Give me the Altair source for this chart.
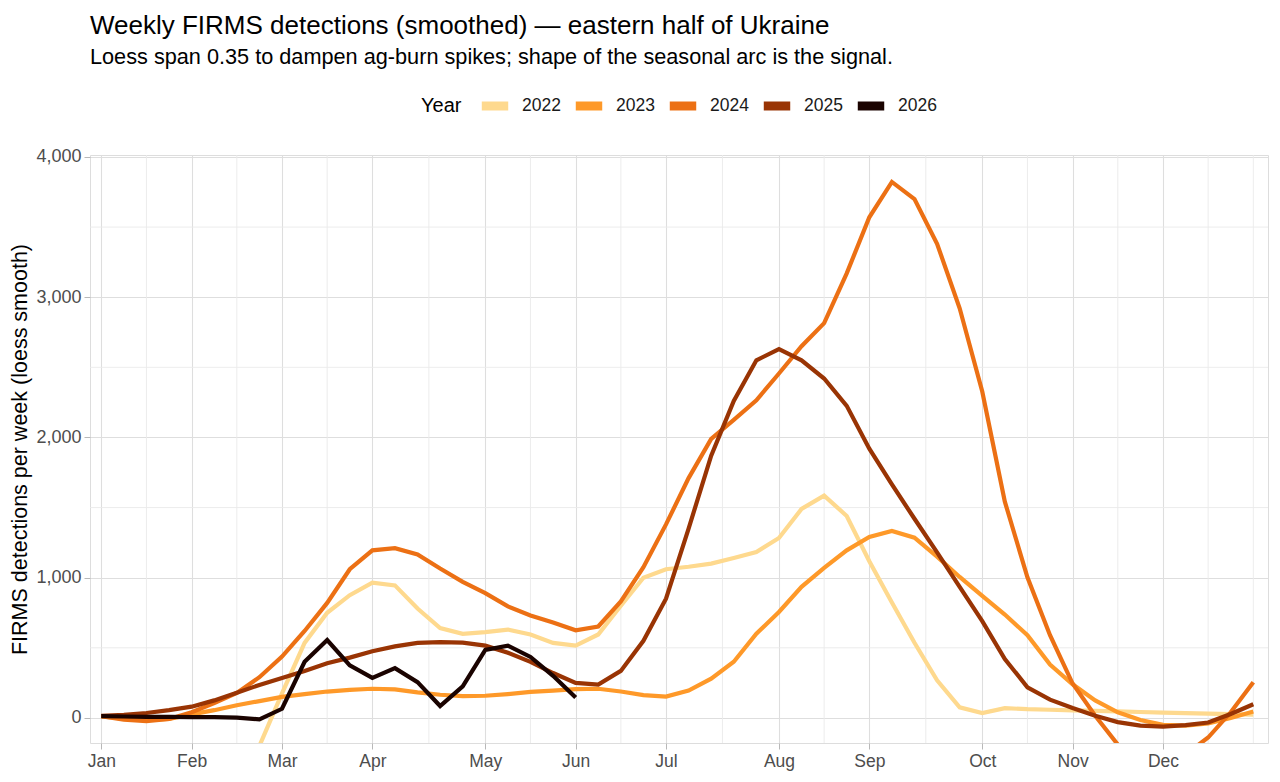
import altair as alt
import pandas as pd

# ---- data ----
years = ["2022", "2023", "2024", "2025", "2026"]
colors = ["#FED98E", "#FE9929", "#EC7014", "#993404", "#1A0300"]

weeks_2022 = list(range(8, 53))
det_2022 = [-200, 175, 535, 750, 875, 965, 945, 780, 640, 600, 612, 630, 595, 535, 515,
            595, 800, 1000, 1060, 1078, 1100, 1140, 1183, 1283, 1490, 1585, 1440, 1117,
            823, 536, 268, 75, 35, 70, 62, 58, 54, 50, 46, 42, 38, 34, 30, 27, 23]

weeks_2023 = list(range(1, 53))
det_2023 = [10, -5, -15, -8, 25, 55, 90, 120, 150, 170,
            188, 200, 208, 203, 182, 165, 155, 158, 170, 185,
            195, 205, 208, 188, 162, 152, 195, 280, 400, 600,
            755, 935, 1070, 1195, 1290, 1333, 1285, 1150, 1005, 870,
            737, 590, 380, 240, 125, 40, -15, -50, -55, -40,
            0, 45]

weeks_2024 = list(range(1, 53))
det_2024 = [12, -12, -24, -8, 40, 105, 178, 290, 437, 620,
            820, 1060, 1195, 1210, 1165, 1065, 970, 890, 795, 730,
            680, 625, 652, 830, 1075, 1380, 1710, 1990, 2125, 2265,
            2456, 2650, 2815, 3170, 3570, 3822, 3700, 3381, 2921, 2327,
            1542, 1002, 590, 245, 15, -190, -320, -350, -260, -140,
            40, 255]

weeks_2025 = list(range(1, 53))
det_2025 = [15, 22, 35, 55, 80, 125, 180, 235, 285, 335,
            390, 430, 475, 510, 535, 540, 537, 515, 465, 400,
            320, 250, 238, 335, 550, 850, 1350, 1870, 2260, 2550,
            2630, 2550, 2420, 2225, 1920, 1665, 1420, 1180, 935, 690,
            420, 218, 130, 70, 15, -30, -55, -62, -52, -33,
            28, 97]

weeks_2026 = list(range(1, 23))
det_2026 = [12, 10, 8, 7, 6, 5, 2, -10, 65, 400, 555, 375, 285, 355, 255, 85,
            225, 485, 515, 435, 300, 145]

month_weeks = [1, 5, 9, 13, 18, 22, 26, 31, 35, 40, 44, 48]
month_labels = ["Jan", "Feb", "Mar", "Apr", "May", "Jun",
                "Jul", "Aug", "Sep", "Oct", "Nov", "Dec"]
minor_x = [3, 7, 11, 15.5, 20, 24, 28.5, 33, 37.5, 42, 46, 50, 52]
y_ticks = [0, 1000, 2000, 3000, 4000]
minor_y = [500, 1500, 2500, 3500]

# ---- build table ----
series = [("2022", weeks_2022, det_2022), ("2023", weeks_2023, det_2023),
          ("2024", weeks_2024, det_2024), ("2025", weeks_2025, det_2025),
          ("2026", weeks_2026, det_2026)]
rows = []
for yr, wk, vals in series:
    for w, v in zip(wk, vals):
        rows.append({"year": yr, "week": w, "det": v})
df = pd.DataFrame(rows)

FONT = "Liberation Sans"
xdom = [0.5, 52.65]
ydom = [-179, 4014]
xscale = alt.Scale(domain=xdom, nice=False, zero=False)
yscale = alt.Scale(domain=ydom, nice=False, zero=False)

label_expr = ("[" + ",".join("'%s'" % m for m in month_labels) + "][indexof(["
              + ",".join(str(w) for w in month_weeks) + "], datum.value)]")

GRID = "#DEDEDE"
MINOR = "#EAEAEA"


def x_axis():
    return alt.Axis(values=month_weeks, labelExpr=label_expr, title=None,
                    grid=True, gridColor=GRID, gridWidth=1.1,
                    domain=False, ticks=True, tickColor="#B8B8B8", tickSize=6,
                    tickWidth=1, labelPadding=3, labelFontSize=17.5,
                    labelColor="#4D4D4D", labelFont=FONT)


def y_axis():
    return alt.Axis(values=y_ticks, format=",d",
                    title="FIRMS detections per week (loess smooth)",
                    grid=True, gridColor=GRID, gridWidth=1.1,
                    domain=False, ticks=True, tickColor="#B8B8B8", tickSize=6,
                    tickWidth=1, labelPadding=3, labelFontSize=18,
                    labelColor="#4D4D4D", labelFont=FONT,
                    titleFontSize=21.5, titleFont=FONT, titleColor="#000000",
                    titleFontWeight="normal", titlePadding=4)


minor_x_layer = alt.Chart(pd.DataFrame({"week": minor_x})).mark_rule(
    color=MINOR, strokeWidth=0.9
).encode(x=alt.X("week:Q", scale=xscale, axis=x_axis()))

minor_y_layer = alt.Chart(pd.DataFrame({"det": minor_y})).mark_rule(
    color=MINOR, strokeWidth=0.9
).encode(y=alt.Y("det:Q", scale=yscale, axis=y_axis()))

lines = alt.Chart(df).mark_line(strokeWidth=4.2, clip=True).encode(
    x=alt.X("week:Q", scale=xscale, axis=x_axis()),
    y=alt.Y("det:Q", scale=yscale, axis=y_axis()),
    color=alt.Color("year:N", scale=alt.Scale(domain=years, range=colors),
                    legend=alt.Legend(title="Year", orient="none", legendX=331, legendY=-67,
                                      direction="horizontal", titleOrient="left",
                                      symbolType="stroke", symbolSize=700,
                                      symbolStrokeWidth=9, labelFontSize=17.5,
                                      labelFont=FONT, titleFont=FONT, titleFontSize=20,
                                      titleFontWeight="normal", titleColor="#000000",
                                      labelColor="#1A1A1A", columnPadding=-4,
                                      labelOffset=9, titlePadding=15,
                                      titleBaseline="middle")),
    detail="year:N",
    order=alt.Order("week:Q"),
)

chart = alt.layer(minor_x_layer, minor_y_layer, lines).properties(
    width=1178, height=588,
    autosize=alt.AutoSizeParams(type="none"),
    padding={"left": 82, "top": 147, "right": 2, "bottom": 30},
    title=alt.TitleParams(
        text="Weekly FIRMS detections (smoothed) — eastern half of Ukraine",
        subtitle="Loess span 0.35 to dampen ag-burn spikes; shape of the seasonal arc is the signal.",
        anchor="start", frame="group", font=FONT, fontSize=26, fontWeight="normal",
        color="#000000", subtitleFont=FONT, subtitleFontSize=21.7,
        subtitleColor="#000000", subtitlePadding=8, offset=19),
).configure_view(stroke="#C8C8C8", strokeWidth=1.2).configure(font=FONT)

chart.save("out.html", embed_options={"renderer": "svg", "actions": False})
